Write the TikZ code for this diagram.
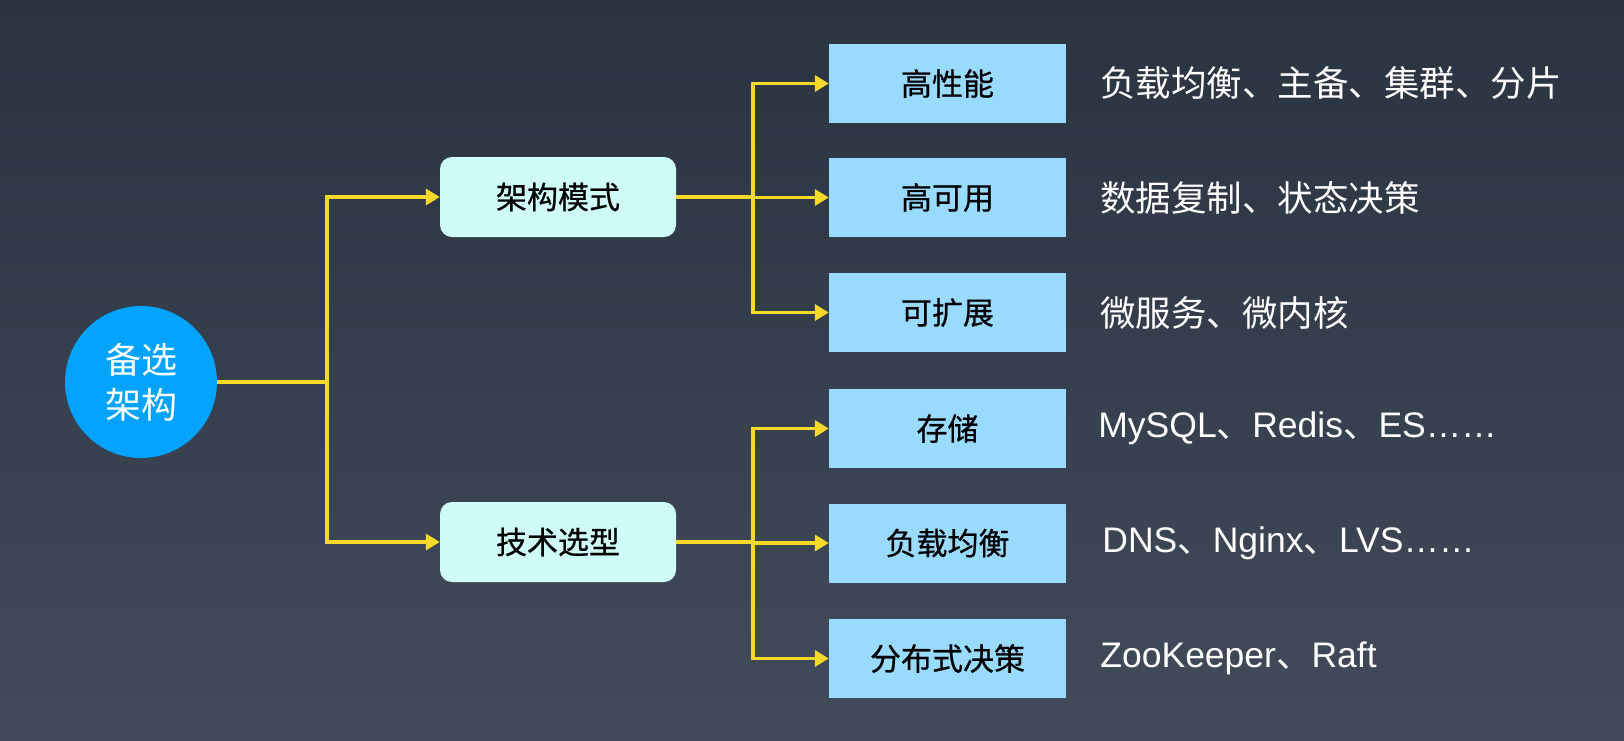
\documentclass[tikz,border=0pt]{standalone}
\usepackage{fontspec}
\setmainfont{Liberation Sans}
\newfontfamily\cjk{Noto Sans CJK SC}
\newfontfamily\cjkbox[FakeBold=0.6]{Noto Sans CJK SC}
\usetikzlibrary{arrows.meta,positioning}
\definecolor{bgtop}{HTML}{2A3340}
\definecolor{bgbot}{HTML}{414B5A}
\definecolor{rootblue}{HTML}{02A3FD}
\definecolor{modefill}{HTML}{CFFCF7}
\definecolor{leaffill}{HTML}{99DAFF}
\definecolor{linkyellow}{HTML}{F7D92A}
\newcommand{\dun}{{\cjk 、}}
\tikzset{
  link/.style={draw=linkyellow, line width=3.5pt, line join=miter},
  arr/.style={link, -{Triangle[length=14pt,width=16pt]}},
  rootnode/.style={circle, fill=rootblue, minimum size=152pt, inner sep=0pt, text=white,
                   align=center, font=\cjk\fontsize{36}{45}\selectfont},
  modebox/.style={rectangle, rounded corners=12pt, fill=modefill, minimum width=236pt,
                  minimum height=80pt, text=black, font=\cjkbox\fontsize{31}{36}\selectfont},
  leafbox/.style={rectangle, fill=leaffill, minimum width=237pt, minimum height=79pt,
                  text=black, font=\cjkbox\fontsize{31}{36}\selectfont},
  detail/.style={anchor=west, inner sep=0pt, text=white, font=\fontsize{35.5}{40}\selectfont},
  cjkdetail/.style={detail, font=\cjk\fontsize{35.5}{40}\selectfont}
}
\begin{document}
\begin{tikzpicture}[x=1pt,y=-1pt]

% ---------- background
\shade[top color=bgtop, bottom color=bgbot] (0,0) rectangle (1624,740);
\useasboundingbox (0,0) rectangle (1624,740);

% ---------- root and the two branches
\node[rootnode] (root) at (141,382) {备选\\架构};
\node[modebox] (mode) at (558,197) {架构模式};
\node[modebox] (tech) at (558,542) {技术选型};

% ---------- leaves
\foreach \name/\y/\lbl in {perf/83.5/高性能, avail/197.5/高可用, ext/312.5/可扩展,
                           store/428.5/存储, lb/543/负载均衡, dist/658.5/分布式决策}
  \node[leafbox] (\name) at (947.5,\y) {\lbl};

% ---------- notes beside the leaves
\node[cjkdetail, right=34pt of perf]  (perfnote)  {负载均衡、主备、集群、分片};
\node[cjkdetail, right=34pt of avail] (availnote) {数据复制、状态决策};
\node[cjkdetail, right=34pt of ext]   (extnote)   {微服务、微内核};
\node[detail, right=32pt of store] (storenote) {MySQL\dun Redis\dun ES……};
\node[detail, right=36pt of lb]    (lbnote)    {DNS\dun Nginx\dun LVS……};
\node[detail, right=34pt of dist]  (distnote)  {ZooKeeper\dun Raft};

% ---------- connectors
\coordinate (rootfork) at (327,382);
\coordinate (modefork) at (753,197);
\coordinate (techfork) at (753,542);
\draw[link] (root.east) -- (rootfork);
\draw[arr] (rootfork) |- (mode.west);
\draw[arr] (rootfork) |- (tech.west);
\draw[link] (mode.east) -- (modefork);
\foreach \leaf in {perf,avail,ext}
  \draw[arr] (modefork) |- (\leaf.west);
\draw[link] (tech.east) -- (techfork);
\foreach \leaf in {store,lb,dist}
  \draw[arr] (techfork) |- (\leaf.west);

\end{tikzpicture}
\end{document}
